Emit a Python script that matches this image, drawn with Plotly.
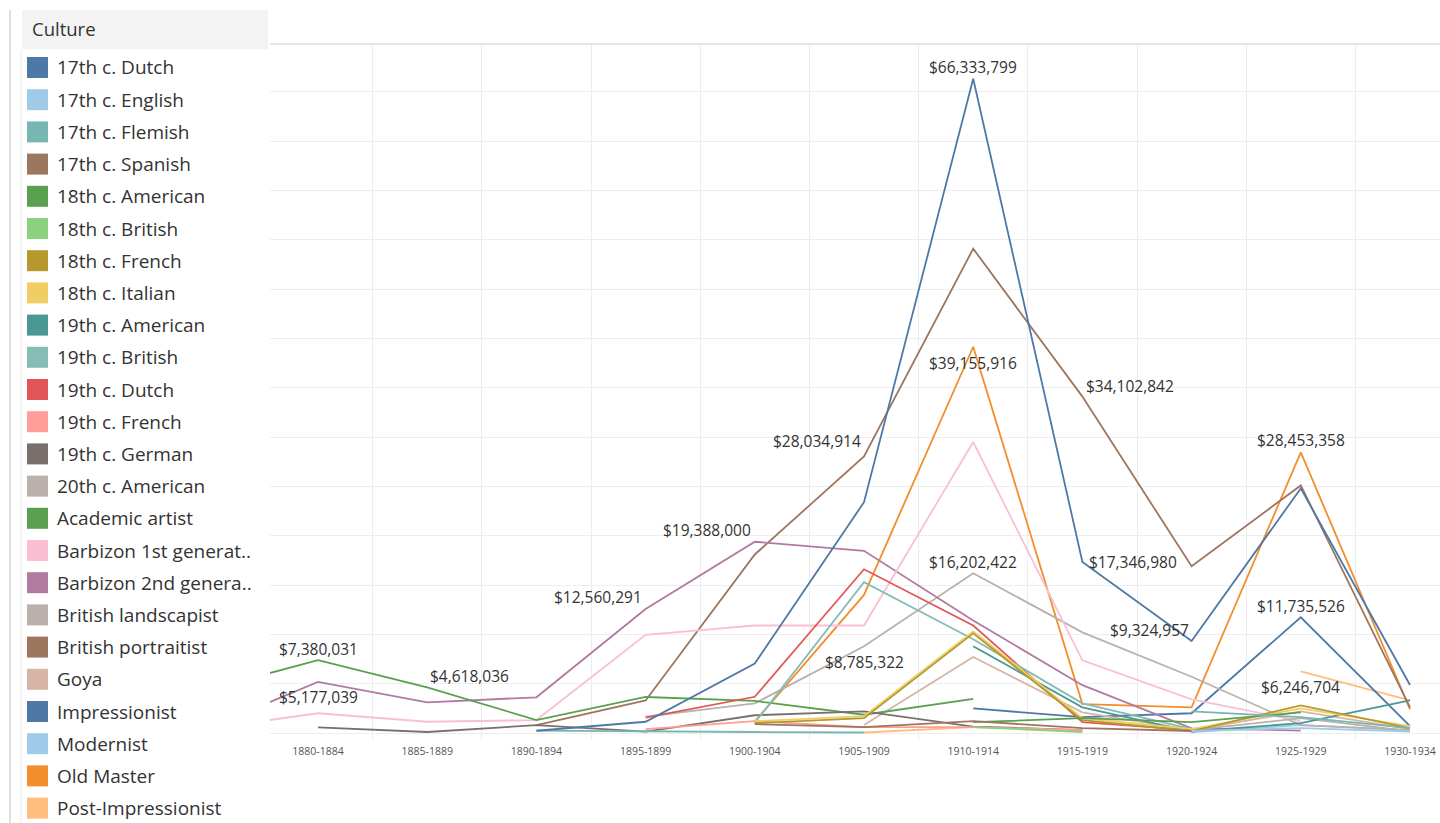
import plotly.graph_objects as go

# ---------------- data (values in millions of dollars) ----------------
periods = ["1875-1879", "1880-1884", "1885-1889", "1890-1894", "1895-1899", "1900-1904",
           "1905-1909", "1910-1914", "1915-1919", "1920-1924", "1925-1929", "1930-1934"]
N = None

dutch17 = [N, N, N, 0.23, 1.14, 7.04, 23.4, 66.333799, 17.34698, 9.324957, 24.8, 4.86]
english17 = [N, N, N, N, N, N, N, N, N, 0.2, 0.5, 0.15]
flemish17 = [N, N, N, 0.25, 0.15, 0.1, 0.05, N, N, 2.2, 1.6, 0.5]
spanish17 = [N, N, N, N, N, 0.9, 0.6, 1.2, 0.5, 0.2, N, N]
american18 = [N, N, N, N, N, N, N, 1.1, 1.5, 1.1, 2.1, N]
british18 = [N, N, N, N, N, N, N, 0.6, 0.1, N, N, N]
french18 = [N, N, N, N, N, 1.0, 1.5, 10.1, 1.3, 0.2, 2.8, 0.5]
italian18 = [N, N, N, N, N, 1.2, 1.7, 10.3, 1.5, 0.4, 2.5, 0.7]
american19 = [N, N, N, N, N, N, N, 8.8, 2.6, 0.15, 1.0, 3.3]
british19 = [N, N, N, N, N, 1.04, 15.3, 9.5, 3.0, 0.4, N, N]
dutch19 = [N, N, N, N, 1.55, 3.67, 16.6, 10.9, 1.1, 0.3, N, N]
french19 = [N, N, N, N, 0.4, 1.2, 0.6, 0.6, 0.3, N, N, N]
german19 = [N, 0.58, 0.1, 0.8, 0.13, 1.8, 2.2, 0.65, 0.3, N, N, N]
american20 = [N, N, N, N, N, N, N, N, N, 0.3, 1.5, 0.2]
academic = [4.43, 7.380031, 4.618036, 1.31, 3.65, 3.25, 1.85, 3.45, N, N, N, N]
barbizon1 = [0.45, 2.0, 1.14, 1.31, 9.96, 10.9, 10.9, 29.5, 7.37, 3.4, 1.2, N]
barbizon2 = [0.55, 5.177039, 3.11, 3.62, 12.560291, 19.388, 18.47, 11.4, 4.85, 0.47, 0.25, N]
landscapist = [N, N, N, N, 1.65, 3.0, 8.785322, 16.202422, 10.2, 5.7, 0.8, 0.3]
portraitist = [N, N, N, 0.8, 3.3, 18.1, 28.034914, 49.1, 34.102842, 16.9, 25.1, 2.6]
goya = [N, N, N, N, N, N, 0.8, 7.7, 2.1, 0.3, 2.2, 0.4]
impressionist = [N, N, N, N, N, N, N, 2.5, 1.6, 2.0, 11.735526, 0.7]
modernist = [N, N, N, N, N, N, N, N, N, 0.1, 0.8, 0.3]
old_master = [N, N, N, N, N, 1.15, 14.0, 39.155916, 2.93, 2.6, 28.453358, 2.4]
post_impressionist = [N, N, N, N, N, N, 0.05, 0.6, N, N, 6.246704, 3.3]

cultures = ["17th c. Dutch", "17th c. English", "17th c. Flemish", "17th c. Spanish",
            "18th c. American", "18th c. British", "18th c. French", "18th c. Italian",
            "19th c. American", "19th c. British", "19th c. Dutch", "19th c. French",
            "19th c. German", "20th c. American", "Academic artist", "Barbizon 1st generat..",
            "Barbizon 2nd genera..", "British landscapist", "British portraitist", "Goya",
            "Impressionist", "Modernist", "Old Master", "Post-Impressionist"]
series = [dutch17, english17, flemish17, spanish17, american18, british18, french18, italian18,
          american19, british19, dutch19, french19, german19, american20, academic, barbizon1,
          barbizon2, landscapist, portraitist, goya, impressionist, modernist, old_master,
          post_impressionist]
colors = ["#4E79A7", "#A0CBE8", "#76B7B2", "#9D7660", "#59A14F", "#8CD17D", "#B6992D", "#F1CE63",
          "#499894", "#86BCB6", "#E15759", "#FF9D9A", "#79706E", "#BAB0AC", "#59A14F", "#FABFD2",
          "#B07AA1", "#BAB0AC", "#9D7660", "#D7B5A6", "#4E79A7", "#A0CBE8", "#F28E2B", "#FFBE7D"]

# labelled marks: (series, period, x offset px, y offset px)
labels = [
    (dutch17, "1910-1914", 0, 12), (old_master, "1910-1914", 0, -16),
    (portraitist, "1915-1919", 48, 11), (portraitist, "1905-1909", -47, 15),
    (barbizon2, "1900-1904", -48, 12), (barbizon2, "1895-1899", -48, 12),
    (academic, "1880-1884", 0, 11), (barbizon2, "1880-1884", 0, -15),
    (academic, "1885-1889", 42, 11), (landscapist, "1910-1914", 0, 11),
    (landscapist, "1905-1909", 0, -16), (dutch17, "1915-1919", 51, 0),
    (dutch17, "1920-1924", -42, 11), (impressionist, "1925-1929", 0, 11),
    (post_impressionist, "1925-1929", 0, -16), (old_master, "1925-1929", 0, 12),
]

# ---------------- layout geometry ----------------
W, H = 1440, 823
L, R, T, B = 270, 0, 44, 83
PW, PH = W - L - R, H - T - B


def px_x(px):
    return (px - L) / PW


def px_y(py):
    return (H - B - py) / PH


FONT = "Open Sans"
xs = list(range(len(periods)))

fig = go.Figure()
order = list(range(len(series)))[::-1]
for i in order:
    fig.add_trace(go.Scatter(
        x=xs, y=series[i], mode="lines", name=cultures[i],
        line=dict(color=colors[i], width=1.8), connectgaps=False,
        showlegend=False, hoverinfo="skip"))

annotations = []
for s, per, dx, dy in labels:
    k = periods.index(per)
    v = s[k]
    annotations.append(dict(
        x=k, y=v, xref="x", yref="y", text=f"${v * 1e6:,.0f}", showarrow=False,
        xanchor="center", yanchor="middle", xshift=dx, yshift=dy,
        font=dict(family=FONT, size=15.5, color="#333333")))

shapes = []
# top border of the pane
shapes.append(dict(type="line", xref="paper", yref="paper", x0=0, x1=1, y0=1, y1=1,
                   line=dict(color="#dddddd", width=1.5)))
# legend panel
shapes.append(dict(type="rect", xref="paper", yref="paper", x0=px_x(22), x1=px_x(268),
                   y0=px_y(49), y1=px_y(10), fillcolor="#f3f3f3", line=dict(width=0)))
shapes.append(dict(type="line", xref="paper", yref="paper", x0=px_x(10), x1=px_x(10),
                   y0=px_y(823), y1=px_y(10), line=dict(color="#d4d4d4", width=1.5)))
shapes.append(dict(type="line", xref="paper", yref="paper", x0=px_x(21), x1=px_x(21),
                   y0=px_y(823), y1=px_y(49), line=dict(color="#ececec", width=1)))
annotations.append(dict(x=px_x(30), y=px_y(29), xref="paper", yref="paper", text="Culture",
                        showarrow=False, xanchor="left", yanchor="middle",
                        font=dict(family=FONT, size=18.5, color="#333333")))
for i, (name, col) in enumerate(zip(cultures, colors)):
    cy = 67.5 + i * 32.2
    shapes.append(dict(type="rect", xref="paper", yref="paper", x0=px_x(27), x1=px_x(48),
                       y0=px_y(cy + 10.5), y1=px_y(cy - 10.5), fillcolor=col, line=dict(width=0)))
    annotations.append(dict(x=px_x(55), y=px_y(cy), xref="paper", yref="paper", text=name,
                            showarrow=False, xanchor="left", yanchor="middle",
                            font=dict(family=FONT, size=19, color="#333333")))

fig.update_layout(
    width=W, height=H, margin=dict(l=L, r=R, t=T, b=B),
    paper_bgcolor="white", plot_bgcolor="white",
    showlegend=False, annotations=annotations, shapes=shapes,
    xaxis=dict(range=[1 - 48 / 109.2, 1 + 1122 / 109.2], tickmode="array", tickvals=xs,
               ticktext=periods, showgrid=False, zeroline=False, showline=False, ticks="",
               ticklabelstandoff=3,
               tickfont=dict(family=FONT, size=10.5, color="#555555"),
               minor=dict(tick0=0.5, dtick=1, showgrid=True, gridcolor="#ececec", gridwidth=1.2)),
    yaxis=dict(range=[-0.71, 69.85], dtick=5, tick0=0, showgrid=True, gridcolor="#eeeeee",
               gridwidth=1.2, zeroline=False, showticklabels=False, ticks=""),
)

fig.write_html("out.html")
